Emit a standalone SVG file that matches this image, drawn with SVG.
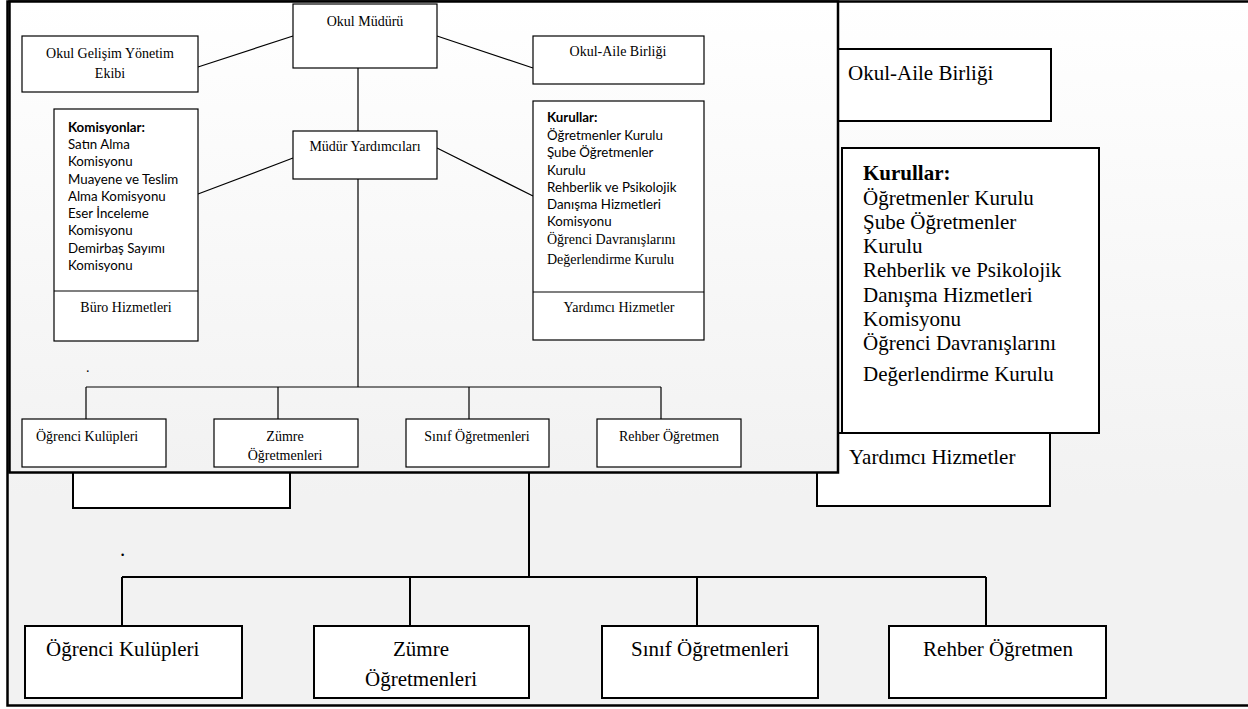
<svg xmlns="http://www.w3.org/2000/svg" width="1248" height="709" viewBox="0 0 1248 709">
<defs>
<linearGradient id="bgOuter" x1="0" y1="0" x2="0" y2="709" gradientUnits="userSpaceOnUse">
<stop offset="0" stop-color="#ffffff"/>
<stop offset="0.7" stop-color="#f2f2f2"/>
<stop offset="1" stop-color="#f2f2f2"/>
</linearGradient>
<linearGradient id="bgInner" x1="0" y1="0" x2="0" y2="472" gradientUnits="userSpaceOnUse">
<stop offset="0" stop-color="#ffffff"/>
<stop offset="1" stop-color="#f2f2f2"/>
</linearGradient>
<style>
.sbox{fill:#fff;stroke:#000;stroke-width:1.2}
.bbox{fill:#fff;stroke:#000;stroke-width:2}
.sl{fill:none;stroke:#000;stroke-width:1.2}
.bl{fill:none;stroke:#000;stroke-width:2}
.st{font-family:"Liberation Serif","Times New Roman",serif;font-size:14px;fill:#000}
.ss{font-family:Lato,"Open Sans",sans-serif;font-size:13.3px;fill:#000}
.bt{font-family:"Liberation Serif","Times New Roman",serif;font-size:21px;fill:#000}
.c{text-anchor:middle}
.b{font-weight:bold}
</style>
</defs>
<rect x="7.5" y="1.5" width="1300" height="704" fill="url(#bgOuter)" stroke="#000" stroke-width="2.5"/>
<g id="big-connectors">
<path class="bl" d="M529 400V577M122 577H986M122 577V626M410 577V626M697 577V626M986 577V626"/>
</g>
<text class="bt" x="120" y="556">.</text>
<g id="big-buro"><rect class="bbox" x="73" y="420" width="217" height="88"/></g>
<g id="big-okul-aile"><rect class="bbox" x="817" y="49" width="234" height="72"/><text class="bt" x="848" y="80">Okul-Aile Birliği</text></g>
<g id="big-yardimci"><rect class="bbox" x="817" y="433" width="233" height="73"/><text class="bt" x="849" y="464">Yardımcı Hizmetler</text></g>
<g id="big-kurullar"><rect class="bbox" x="842" y="148" width="257" height="285"/>
<text class="bt" x="863"><tspan class="b" x="863" y="180">Kurullar:</tspan><tspan x="863" y="204.5">Öğretmenler Kurulu</tspan><tspan x="863" y="229">Şube Öğretmenler</tspan><tspan x="863" y="253">Kurulu</tspan><tspan x="863" y="277">Rehberlik ve Psikolojik</tspan><tspan x="863" y="301.5">Danışma Hizmetleri</tspan><tspan x="863" y="326">Komisyonu</tspan><tspan x="863" y="350">Öğrenci Davranışlarını</tspan><tspan x="863" y="381">Değerlendirme Kurulu</tspan></text></g>
<g id="big-ogrenci"><rect class="bbox" x="25" y="626" width="217" height="72"/><text class="bt" x="46" y="656">Öğrenci Kulüpleri</text></g>
<g id="big-zumre"><rect class="bbox" x="314" y="626" width="215" height="72"/><text class="bt c" x="421" y="656">Zümre</text><text class="bt c" x="421" y="686">Öğretmenleri</text></g>
<g id="big-sinif"><rect class="bbox" x="602" y="626" width="216" height="72"/><text class="bt c" x="710" y="656">Sınıf Öğretmenleri</text></g>
<g id="big-rehber"><rect class="bbox" x="889" y="626" width="217" height="72"/><text class="bt c" x="998" y="656">Rehber Öğretmen</text></g>

<rect x="9.5" y="1.5" width="828.5" height="471" fill="url(#bgInner)" stroke="#000" stroke-width="2.5"/>
<g id="connectors">
<path class="sl" d="M293 36L198 67M437 36L533 68M358 68V131M293 158L198 194M437 148L533 196M358 179V387M86 387H661M86 387V419M278 387V419M469 387V419M661 387V419"/>
</g>
<text class="st" x="86" y="372">.</text>
<g id="okul-muduru"><rect class="sbox" x="293" y="4" width="144" height="64"/><text class="st c" x="365" y="26">Okul Müdürü</text></g>
<g id="gelisim"><rect class="sbox" x="22" y="36" width="176" height="56"/><text class="st c" x="110" y="58">Okul Gelişim Yönetim</text><text class="st c" x="110" y="78">Ekibi</text></g>
<g id="okul-aile"><rect class="sbox" x="533" y="36" width="171" height="48"/><text class="st c" x="618" y="56">Okul-Aile Birliği</text></g>
<g id="mudur-yrd"><rect class="sbox" x="293" y="131" width="144" height="48"/><text class="st c" x="365" y="151">Müdür Yardımcıları</text></g>
<g id="komisyonlar"><rect class="sbox" x="54" y="109" width="144" height="232"/><line class="sl" x1="54" y1="291" x2="198" y2="291"/>
<text class="ss" x="68"><tspan class="b" x="68" y="131.5">Komisyonlar:</tspan><tspan x="68" y="149">Satın Alma</tspan><tspan x="68" y="166">Komisyonu</tspan><tspan x="68" y="183.5">Muayene ve Teslim</tspan><tspan x="68" y="200.5">Alma Komisyonu</tspan><tspan x="68" y="218">Eser İnceleme</tspan><tspan x="68" y="235">Komisyonu</tspan><tspan x="68" y="252.5">Demirbaş Sayımı</tspan><tspan x="68" y="269.5">Komisyonu</tspan></text>
<text class="st c" x="126" y="312">Büro Hizmetleri</text></g>
<g id="kurullar"><rect class="sbox" x="533" y="101" width="171" height="239"/><line class="sl" x1="533" y1="292" x2="704" y2="292"/>
<text class="ss" x="547"><tspan class="b" x="547" y="121.5">Kurullar:</tspan><tspan x="547" y="140">Öğretmenler Kurulu</tspan><tspan x="547" y="157">Şube Öğretmenler</tspan><tspan x="547" y="174.5">Kurulu</tspan><tspan x="547" y="191.5">Rehberlik ve Psikolojik</tspan><tspan x="547" y="208.5">Danışma Hizmetleri</tspan><tspan x="547" y="225.5">Komisyonu</tspan></text>
<text class="st" x="547" y="244">Öğrenci Davranışlarını</text><text class="st" x="547" y="264">Değerlendirme Kurulu</text>
<text class="st c" x="619" y="312">Yardımcı Hizmetler</text></g>
<g id="ogrenci"><rect class="sbox" x="22" y="419" width="144" height="48"/><text class="st" x="36" y="441">Öğrenci Kulüpleri</text></g>
<g id="zumre"><rect class="sbox" x="214" y="419" width="144" height="48"/><text class="st c" x="285" y="441">Zümre</text><text class="st c" x="285" y="460">Öğretmenleri</text></g>
<g id="sinif"><rect class="sbox" x="406" y="419" width="143" height="48"/><text class="st c" x="477" y="441">Sınıf Öğretmenleri</text></g>
<g id="rehber"><rect class="sbox" x="597" y="419" width="144" height="48"/><text class="st c" x="669" y="441">Rehber Öğretmen</text></g>
</svg>
